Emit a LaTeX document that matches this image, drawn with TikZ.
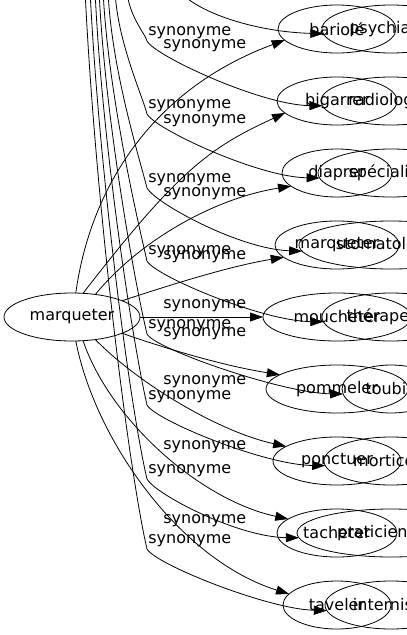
\documentclass[tikz,border=0pt]{standalone}
\usepackage{fontspec}
\setmainfont{DejaVu Sans}
\usetikzlibrary{arrows.meta,shapes.geometric}

\begin{document}
\begin{tikzpicture}[x=1pt, y=-1pt, line width=0.8pt,
	font=\fontsize{16}{19}\selectfont,
	vertex/.style={shape=ellipse, draw=black, minimum height=48, inner sep=0, outer sep=0},
	syn/.style={anchor=west, inner sep=0},
	link/.style={-{Triangle[length=13pt, width=9pt]}, draw=black}]
	\useasboundingbox (0,0) rectangle (407,635);
	\clip (0,0) rectangle (407,635);

	% first graph: marqueter
	\node[vertex, minimum width=136] (marqueter)  at (72,317)  {marqueter};
	\node[vertex, minimum width=118] (bariole)    at (337,29)  {bariolé};
	\node[vertex, minimum width=120] (bigarrer)   at (337,101) {bigarrer};
	\node[vertex, minimum width=110] (diaprer)    at (337,173) {diaprer};
	\node[vertex, minimum width=124] (marqueterB) at (337,245) {marqueter};
	\node[vertex, minimum width=148] (moucheter)  at (337,317) {moucheter};
	\node[vertex, minimum width=142] (pommeler)   at (337,389) {pommeler};
	\node[vertex, minimum width=128] (ponctuer)   at (337,461) {ponctuer};
	\node[vertex, minimum width=120] (tacheter)   at (337,533) {tacheter};
	\node[vertex, minimum width=108] (taveler)    at (337,605) {taveler};

	% second graph, its source is above the page
	\node[vertex, minimum width=138] (psychiatre)   at (391,29)  {psychiatre};
	\node[vertex, minimum width=140] (radiologue)   at (391,101) {radiologue};
	\node[vertex, minimum width=146] (specialiste)  at (391,173) {spécialiste};
	\node[vertex, minimum width=184] (stomatologue) at (391,245) {stomatologue};
	\node[vertex, minimum width=138] (therapeute)   at (391,317) {thérapeute};
	\node[vertex, minimum width=98]  (toubib)       at (391,389) {toubib};
	\node[vertex, minimum width=134] (morticole)    at (391,461) {morticole};
	\node[vertex, minimum width=188, text width=108, align=left] (praticien) at (391,533) {praticien-};
	\node[vertex, minimum width=132] (interniste)   at (391,605) {interniste};

	\coordinate (top1) at (178,-10);
	\coordinate (top2) at (127,-10);
	\coordinate (top3) at (115,-10);
	\coordinate (top4) at (108,-10);
	\coordinate (top5) at (103,-10);
	\coordinate (top6) at (99,-10);
	\coordinate (top7) at (95,-10);
	\coordinate (top8) at (90,-10);
	\coordinate (top9) at (85,-10);

	% labels
	\node[syn] (synA1) at (148,33)  {synonyme};
	\node[syn] (synA2) at (148,106) {synonyme};
	\node[syn] (synA3) at (148,180) {synonyme};
	\node[syn] (synA4) at (148,252) {synonyme};
	\node[syn] (synA5) at (148,326) {synonyme};
	\node[syn] (synA6) at (148,397) {synonyme};
	\node[syn] (synA7) at (148,471) {synonyme};
	\node[syn] (synA8) at (148,541) {synonyme};

	\node[syn] (synB1) at (163,46)  {synonyme};
	\node[syn] (synB2) at (163,121) {synonyme};
	\node[syn] (synB3) at (163,194) {synonyme};
	\node[syn] (synB4) at (163,257) {synonyme};
	\node[syn] (synB5) at (163,306) {synonyme};
	\node[syn] (synB6) at (163,334) {synonyme};
	\node[syn] (synB7) at (163,382) {synonyme};
	\node[syn] (synB8) at (163,447) {synonyme};
	\node[syn] (synB9) at (163,521) {synonyme};

	% edges of marqueter
	\draw[link] (marqueter.81)  .. controls (90,190)  and (150,90)  .. (bariole.192);
	\draw[link] (marqueter.65)  .. controls (179,169) and (211,147) .. (bigarrer.193);
	\draw[link] (marqueter.44)  .. controls (140,240) and (215,198) .. (diaprer.196);
	\draw[link] (marqueter.18)  .. controls (170,285) and (230,266) .. (marqueterB.193);
	\draw[link] (marqueter.east) -- (moucheter.west);
	\draw[link] (marqueter.-18) .. controls (170,350) and (225,366) .. (pommeler.166);
	\draw[link] (marqueter.-44) .. controls (140,385) and (220,432) .. (ponctuer.164);
	\draw[link] (marqueter.-65) .. controls (110,420) and (200,500) .. (tacheter.164);
	\draw[link] (marqueter.-81) .. controls (95,440)  and (180,560) .. (taveler.167);

	% edges coming down from the second source
	\draw[link] (top1) .. controls (200,15) and (260,32) .. (psychiatre.184);
	\draw[link] (top2) .. controls (128,15)  and (146,35)  .. (147,41)
		.. controls (155,56)  and (261,105) .. (radiologue.184);
	\draw[link] (top3) .. controls (117,41)  and (143,97)  .. (147,114)
		.. controls (155,129) and (258,177) .. (specialiste.184);
	\draw[link] (top4) .. controls (111,68)  and (140,160) .. (147,188)
		.. controls (155,203) and (239,249) .. (stomatologue.184);
	\draw[link] (top5) .. controls (108,94)  and (138,222) .. (147,261)
		.. controls (155,276) and (262,321) .. (therapeute.184);
	\draw[link] (top6) .. controls (105,120) and (135,284) .. (147,334)
		.. controls (155,349) and (282,393) .. (toubib.186);
	\draw[link] (top7) .. controls (102,146) and (133,344) .. (147,405)
		.. controls (155,420) and (264,465) .. (morticole.184);
	\draw[link] (top8) .. controls (99,172)  and (130,407) .. (147,479)
		.. controls (155,494) and (237,537) .. (praticien.183);
	\draw[link] (top9) .. controls (95,198)  and (128,467) .. (147,549)
		.. controls (155,564) and (267,609) .. (interniste.185);
\end{tikzpicture}
\end{document}
